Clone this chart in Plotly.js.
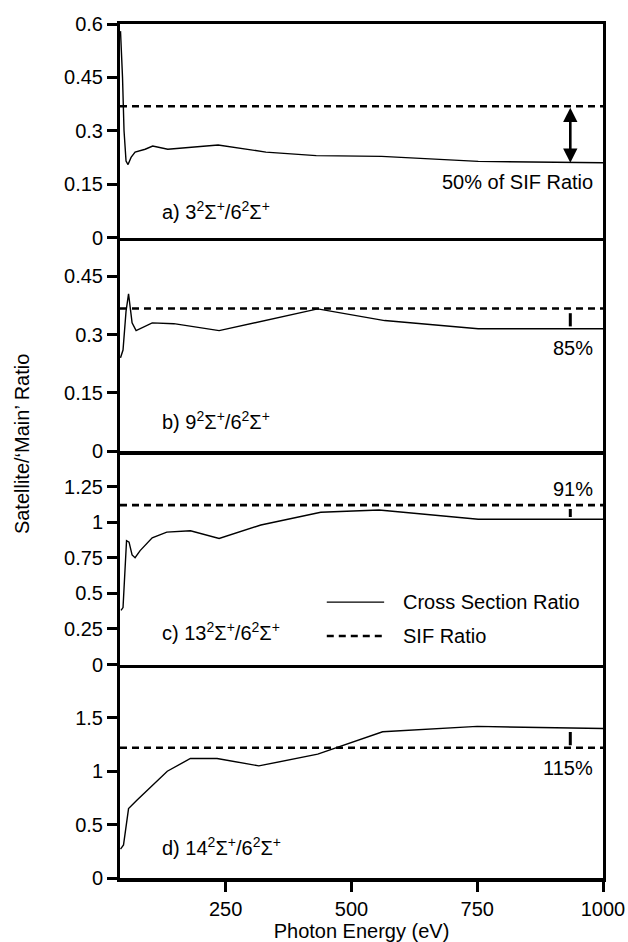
<!DOCTYPE html>
<html>
<head>
<meta charset="utf-8">
<script src="https://cdn.plot.ly/plotly-3.0.1.min.js"></script>
<style>html,body{margin:0;padding:0;background:#fff;}#chart{width:628px;height:942px;}</style>
</head>
<body>
<div id="chart"></div>
<script>
// ---- data ----
const energyRange = [40, 1000];

const energyA = [41, 45, 48, 52, 56, 62, 70, 90, 105, 135, 235, 330, 430, 560, 752, 1000];
const ratioA  = [0.58, 0.45, 0.30, 0.215, 0.205, 0.225, 0.24, 0.248, 0.257, 0.248, 0.26, 0.24, 0.23, 0.228, 0.214, 0.21];

const energyB = [41, 46, 52, 57, 64, 72, 104, 147, 237, 433, 566, 752, 1000];
const ratioB  = [0.24, 0.26, 0.36, 0.405, 0.33, 0.31, 0.33, 0.328, 0.31, 0.366, 0.336, 0.315, 0.315];

const energyC = [42, 46, 53, 58, 64, 70, 80, 104, 133, 180, 237, 320, 439, 555, 752, 1000];
const ratioC  = [0.38, 0.40, 0.87, 0.86, 0.77, 0.75, 0.80, 0.89, 0.93, 0.94, 0.885, 0.98, 1.07, 1.085, 1.02, 1.02];

const energyD = [41, 47, 57, 74, 134, 180, 233, 316, 433, 562, 750, 1000];
const ratioD  = [0.27, 0.31, 0.65, 0.73, 1.0, 1.12, 1.12, 1.05, 1.16, 1.37, 1.42, 1.40];

const sifRatio = [0.369, 0.367, 1.12, 1.22];

const panelLabels = [
  'a) 3<sup>2</sup>Σ<sup>+</sup>/6<sup>2</sup>Σ<sup>+</sup>',
  'b) 9<sup>2</sup>Σ<sup>+</sup>/6<sup>2</sup>Σ<sup>+</sup>',
  'c) 13<sup>2</sup>Σ<sup>+</sup>/6<sup>2</sup>Σ<sup>+</sup>',
  'd) 14<sup>2</sup>Σ<sup>+</sup>/6<sup>2</sup>Σ<sup>+</sup>'
];
const percentLabels = ['50% of SIF Ratio', '85%', '91%', '115%'];
const percentLabelY = [0.156, 0.266, 1.231, 1.035];
const panelLabelY = [0.076, 0.079, 0.23, 0.295];

// difference markers (panel a arrow, panels b-d short bars)
const markerEnergy = 935;
const markerTop    = [0.369, 0.355, 1.093, 1.368];
const markerBottom = [0.21, 0.321, 1.036, 1.243];

const yRanges = [[0, 0.6], [0, 0.55], [0, 1.5], [0, 2]];
const yTickVals = [
  [0, 0.15, 0.3, 0.45, 0.6],
  [0, 0.15, 0.3, 0.45],
  [0, 0.25, 0.5, 0.75, 1, 1.25],
  [0, 0.5, 1, 1.5]
];
const yTickText = [
  ['0', '0.15', '0.3', '0.45', '0.6'],
  ['0', '0.15', '0.3', '0.45'],
  ['0', '0.25', '0.5', '0.75', '1', '1.25'],
  ['0', '0.5', '1', '1.5']
];
const xTickVals = [250, 500, 750, 1000];
const xTickText = ['250', '500', '750', '1000'];

const legendNames = ['Cross Section Ratio', 'SIF Ratio'];

// ---- build ----
const FONT = 'Liberation Sans, Arial, Helvetica, sans-serif';
const energies = [energyA, energyB, energyC, energyD];
const ratios = [ratioA, ratioB, ratioC, ratioD];
const domains = [[0.75, 1], [0.5, 0.75], [0.25, 0.5], [0, 0.25]];

const traces = [];
const layout = {
  width: 628, height: 942,
  margin: {l: 120, r: 25, t: 24, b: 64},
  paper_bgcolor: '#fff', plot_bgcolor: '#fff',
  showlegend: false,
  font: {family: FONT, size: 20, color: '#000'},
  annotations: [], shapes: []
};

for (let i = 0; i < 4; i++) {
  const s = i === 0 ? '' : String(i + 1);
  const xa = 'x' + s, ya = 'y' + s;
  traces.push({
    x: energies[i], y: ratios[i], xaxis: xa, yaxis: ya,
    type: 'scatter', mode: 'lines',
    line: {color: '#000', width: 1.4},
    name: legendNames[0], hoverinfo: 'skip'
  });
  traces.push({
    x: energyRange, y: [sifRatio[i], sifRatio[i]], xaxis: xa, yaxis: ya,
    type: 'scatter', mode: 'lines',
    line: {color: '#000', width: 2.6, dash: '7px,5px'},
    name: legendNames[1], hoverinfo: 'skip'
  });
  if (i > 0) {
    traces.push({
      x: [markerEnergy, markerEnergy], y: [markerTop[i], markerBottom[i]],
      xaxis: xa, yaxis: ya, type: 'scatter', mode: 'lines',
      line: {color: '#000', width: 3}, hoverinfo: 'skip'
    });
  }

  const last = i === 3;
  layout['xaxis' + s] = {
    domain: [0, 1], anchor: ya, range: energyRange,
    showline: true, linewidth: 3.5, linecolor: '#000', mirror: i === 0,
    showgrid: false, zeroline: false,
    ticks: last ? 'outside' : '', ticklen: 10, tickwidth: 3, tickcolor: '#000',
    tickvals: xTickVals, ticktext: xTickText,
    showticklabels: last,
    tickfont: {family: FONT, size: 20, color: '#000'}
  };
  if (i > 0) layout['xaxis' + s].matches = 'x';
  if (last) {
    layout['xaxis' + s].title = {text: 'Photon Energy (eV)', font: {family: FONT, size: 20, color: '#000'}, standoff: 4};
  }
  layout['yaxis' + s] = {
    domain: domains[i], anchor: xa, range: yRanges[i],
    showline: true, linewidth: 3, linecolor: '#000', mirror: true,
    showgrid: false, zeroline: false,
    ticks: 'outside', ticklen: 10, tickwidth: 3, tickcolor: '#000',
    tickvals: yTickVals[i], ticktext: yTickText[i],
    tickfont: {family: FONT, size: 20, color: '#000'}
  };

  layout.annotations.push({
    xref: xa, yref: ya, x: 120, y: panelLabelY[i],
    xanchor: 'left', yanchor: 'middle', showarrow: false,
    text: panelLabels[i], font: {family: FONT, size: 20, color: '#000'}
  });
  layout.annotations.push({
    xref: xa, yref: ya, x: 984, y: percentLabelY[i],
    xanchor: 'right', yanchor: 'middle', showarrow: false,
    text: percentLabels[i], font: {family: FONT, size: 20, color: '#000'}
  });
}

// double-headed arrow in panel a
layout.annotations.push({
  xref: 'x', yref: 'y', x: markerEnergy, y: markerBottom[0],
  axref: 'x', ayref: 'y', ax: markerEnergy, ay: markerTop[0],
  showarrow: true, arrowside: 'end+start', arrowhead: 2, arrowsize: 1.1,
  arrowwidth: 2.6, arrowcolor: '#000', standoff: 0, startstandoff: 0, text: ''
});

// legend (panel c)
layout.shapes.push({type: 'line', xref: 'x3', yref: 'y3', x0: 451, x1: 565, y0: 0.438, y1: 0.438, line: {color: '#000', width: 1.4}});
layout.shapes.push({type: 'line', xref: 'x3', yref: 'y3', x0: 451, x1: 565, y0: 0.2, y1: 0.2, line: {color: '#000', width: 2.6, dash: '7px,5px'}});
layout.annotations.push({xref: 'x3', yref: 'y3', x: 598, y: 0.438, xanchor: 'left', yanchor: 'middle', showarrow: false, text: legendNames[0], font: {family: FONT, size: 20, color: '#000'}});
layout.annotations.push({xref: 'x3', yref: 'y3', x: 598, y: 0.2, xanchor: 'left', yanchor: 'middle', showarrow: false, text: legendNames[1], font: {family: FONT, size: 20, color: '#000'}});

// shared y-axis title
layout.annotations.push({
  xref: 'paper', yref: 'paper', x: -0.203, y: 0.508,
  xanchor: 'center', yanchor: 'middle', textangle: -90, showarrow: false,
  text: 'Satellite/‘Main’ Ratio', font: {family: FONT, size: 20, color: '#000'}
});

Plotly.newPlot('chart', traces, layout, {staticPlot: true, displayModeBar: false});
</script>
</body>
</html>
